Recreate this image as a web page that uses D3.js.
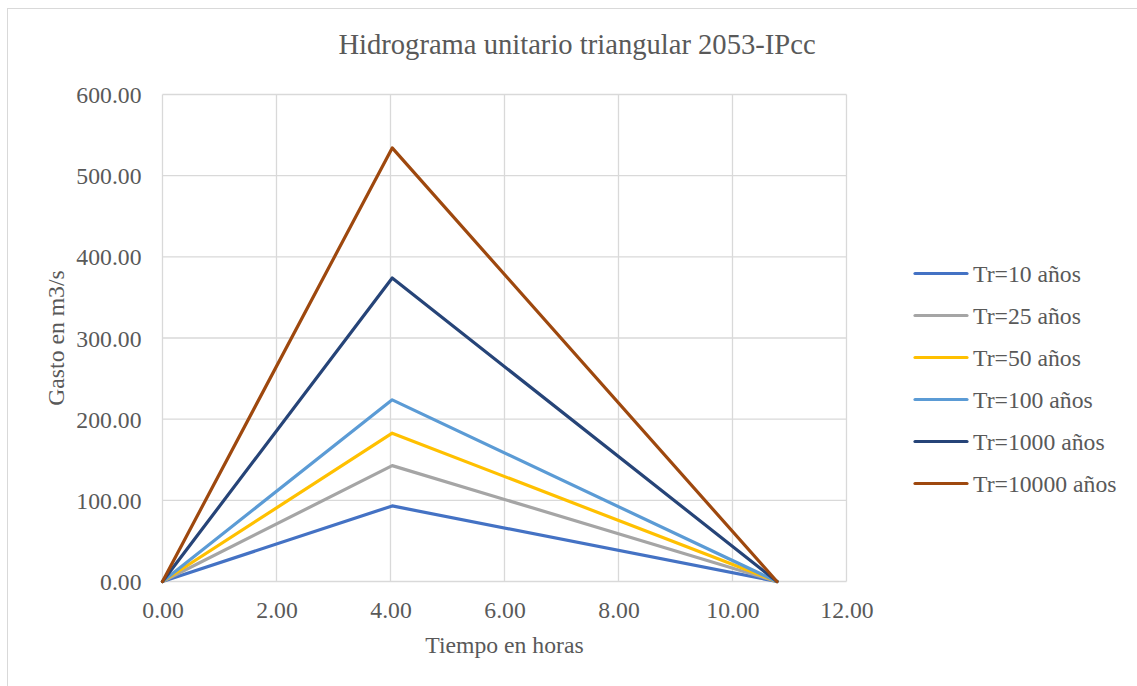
<!DOCTYPE html>
<html><head><meta charset="utf-8">
<script src="https://cdn.jsdelivr.net/npm/d3@7"></script>
<style>body{margin:0;background:#fff}svg{display:block}</style>
</head><body>
<svg id="c" width="1137" height="686"></svg>
<script>
const title = "Hidrograma unitario triangular 2053-IPcc";
const xTitle = "Tiempo en horas";
const yTitle = "Gasto en m3/s";
const times = [0, 4.03, 10.78];
const seriesNames = ["Tr=10 años","Tr=25 años","Tr=50 años","Tr=100 años","Tr=1000 años","Tr=10000 años"];
const peaks = [93.1, 142.8, 182.7, 223.8, 373.9, 534.2];
const colors = ["#4472C4","#A5A5A5","#FFC000","#5B9BD5","#264478","#9E480E"];
const xTicks = [0,2,4,6,8,10,12];
const yTicks = [0,100,200,300,400,500,600];

const svg = d3.select("#c");
const font = "'Liberation Serif','Times New Roman',serif";
const txt = "#595959";
const fs = 23.7;
svg.append("rect").attr("x",7.5).attr("y",8.5).attr("width",1140).attr("height",690)
  .attr("fill","#fff").attr("stroke","#d9d9d9");

const x = d3.scaleLinear().domain([0,12]).range([162.5,846.5]);
const y = d3.scaleLinear().domain([0,600]).range([581.5,94.5]);

const g = svg.append("g");
g.selectAll(".vg").data(xTicks).join("line").attr("x1",d=>x(d)).attr("x2",d=>x(d))
  .attr("y1",y(600)).attr("y2",y(0)).attr("stroke","#d9d9d9").attr("stroke-width",1.3);
g.selectAll(".hg").data(yTicks).join("line").attr("x1",x(0)).attr("x2",x(12))
  .attr("y1",d=>y(d)).attr("y2",d=>y(d)).attr("stroke","#d9d9d9").attr("stroke-width",1.3);

const xa = svg.append("g").attr("transform",`translate(0,${y(0)})`)
  .call(d3.axisBottom(x).tickValues(xTicks).tickFormat(d3.format(".2f")).tickSize(0).tickPadding(0));
xa.select(".domain").remove();
xa.selectAll("text").attr("dy",null).attr("y",36).attr("font-family",font).attr("font-size",fs).attr("fill",txt);
const ya = svg.append("g").attr("transform",`translate(${x(0)},0)`)
  .call(d3.axisLeft(y).tickValues(yTicks).tickFormat(d3.format(".2f")).tickSize(0).tickPadding(21));
ya.select(".domain").remove();
ya.selectAll("text").attr("dy",null).attr("y",8).attr("font-family",font).attr("font-size",fs).attr("fill",txt);

const line = d3.line().x(d=>x(d[0])).y(d=>y(d[1]));
seriesNames.forEach((n,i)=>{
  const pts = [[times[0],0],[times[1],peaks[i]],[times[2],0]];
  svg.append("path").attr("d",line(pts)).attr("fill","none").attr("stroke",colors[i])
    .attr("stroke-width",3.2).attr("stroke-linejoin","round").attr("stroke-linecap","round");
});

svg.append("text").attr("x",577).attr("y",54).attr("text-anchor","middle")
  .attr("font-family",font).attr("font-size",28.6).attr("fill",txt).text(title);
svg.append("text").attr("x",(x(0)+x(12))/2).attr("y",653).attr("text-anchor","middle")
  .attr("font-family",font).attr("font-size",fs).attr("fill",txt).text(xTitle);
svg.append("text").attr("transform",`translate(64,${(y(0)+y(600))/2}) rotate(-90)`).attr("text-anchor","middle")
  .attr("font-family",font).attr("font-size",fs).attr("fill",txt).text(yTitle);

const lg = svg.append("g");
seriesNames.forEach((n,i)=>{
  const ly = 273.5 + i*42;
  lg.append("line").attr("x1",915).attr("x2",967).attr("y1",ly).attr("y2",ly)
    .attr("stroke",colors[i]).attr("stroke-width",3.2).attr("stroke-linecap","round");
  lg.append("text").attr("x",973).attr("y",ly+8).attr("font-family",font).attr("font-size",fs)
    .attr("fill",txt).text(n);
});
</script>
</body></html>
